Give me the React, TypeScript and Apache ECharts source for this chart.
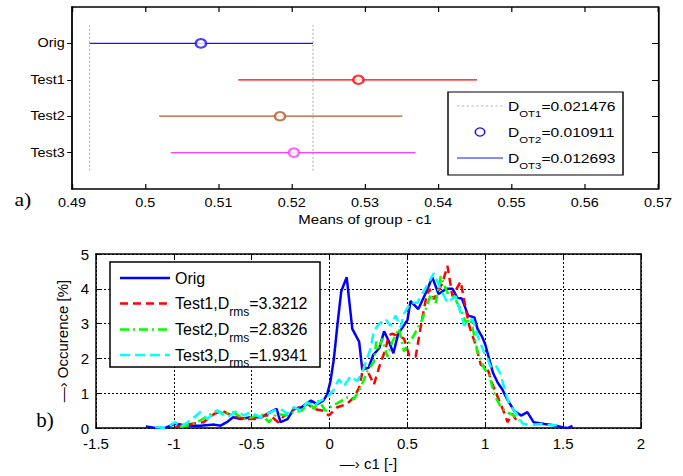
import React, { useEffect, useRef } from "react";
import * as echarts from "echarts";

// ---------- panel a) : multiple comparison of group means ----------
const groupNames = ["Orig", "Test1", "Test2", "Test3"];
const groupPos = [4, 3, 2, 1];
const groupMeans = [0.5076, 0.5291, 0.5184, 0.5203];
const groupLow = [0.4924, 0.5127, 0.5019, 0.5035];
const groupHigh = [0.5229, 0.5453, 0.5351, 0.5369];
const refLineSpan = [0.5, 4.5];
const dotLegend = ["D_OT1=0.021476", "D_OT2=0.010911", "D_OT3=0.012693"];
const topXRange = [0.49, 0.57];
const topXStep = 0.01;

// ---------- panel b) : distributions ----------
const origData = [
  [-1.18, 0.05], [-1.12, 0], [-1.06, 0], [-0.99, 0.13], [-0.95, 0.1], [-0.89, 0.07], [-0.83, 0.07],
  [-0.74, 0.1], [-0.7, 0.07], [-0.66, 0.17], [-0.62, 0.31], [-0.57, 0.26], [-0.51, 0.31], [-0.44, 0.31],
  [-0.38, 0.46], [-0.34, 0.55], [-0.315, 0.17], [-0.27, 0.26], [-0.23, 0.55], [-0.18, 0.6], [-0.12, 0.79],
  [-0.08, 0.69], [-0.04, 0.79], [-0.015, 0.97], [0.006, 1.35], [0.028, 2.0], [0.05, 2.95], [0.075, 3.93],
  [0.11, 4.33], [0.146, 2.85], [0.19, 2.48], [0.21, 1.68], [0.25, 1.73], [0.28, 2.1], [0.32, 2.3],
  [0.35, 2.78], [0.38, 2.5], [0.41, 2.15], [0.44, 2.7], [0.47, 2.9], [0.5, 3.1], [0.52, 3.65],
  [0.57, 3.42], [0.62, 3.9], [0.66, 4.33], [0.7, 3.85], [0.75, 4.0], [0.79, 4.0], [0.82, 3.74],
  [0.85, 3.72], [0.89, 3.23], [0.93, 3.18], [0.95, 2.85], [0.98, 2.62], [1.0, 2.4], [1.03, 1.9],
  [1.05, 1.58], [1.08, 1.3], [1.11, 1.11], [1.14, 0.83], [1.185, 0.5], [1.23, 0.36], [1.27, 0.46],
  [1.31, 0.17], [1.38, 0.12], [1.44, 0.08], [1.5, 0.02], [1.53, 0], [1.56, 0.06],
];
const test1Data = [
  [-0.99, 0.03], [-0.96, 0.07], [-0.89, 0.12], [-0.81, 0.17], [-0.74, 0.41], [-0.69, 0.5], [-0.65, 0.41],
  [-0.59, 0.31], [-0.53, 0.26], [-0.48, 0.26], [-0.42, 0.36], [-0.38, 0.36], [-0.33, 0.17], [-0.29, 0.36],
  [-0.25, 0.5], [-0.19, 0.6], [-0.14, 0.69], [-0.1, 0.55], [-0.04, 0.5], [-0.005, 0.36], [0.05, 0.6],
  [0.11, 0.69], [0.156, 0.88], [0.19, 1.16], [0.22, 1.82], [0.25, 1.58], [0.285, 1.25], [0.317, 1.73],
  [0.36, 2.28], [0.38, 2.66], [0.4, 2.71], [0.435, 2.66], [0.478, 2.57], [0.51, 2.1], [0.553, 2.05],
  [0.585, 2.9], [0.617, 3.67], [0.64, 4.0], [0.67, 3.7], [0.725, 4.17], [0.757, 4.66], [0.789, 3.79],
  [0.842, 4.21], [0.875, 3.42], [0.896, 2.95], [0.939, 2.38], [0.971, 1.82], [1.014, 1.72], [1.046, 1.26],
  [1.089, 0.79], [1.121, 0.45], [1.143, 0.17], [1.175, 0.41], [1.207, 0.17],
];
const test2Data = [
  [-0.96, 0.03], [-0.89, 0.1], [-0.83, 0.22], [-0.78, 0.36], [-0.72, 0.5], [-0.68, 0.41], [-0.62, 0.46],
  [-0.55, 0.26], [-0.5, 0.31], [-0.44, 0.41], [-0.39, 0.17], [-0.34, 0.41], [-0.28, 0.36], [-0.23, 0.46],
  [-0.18, 0.5], [-0.13, 0.74], [-0.1, 0.55], [-0.07, 0.79], [-0.026, 0.5], [0.017, 0.64], [0.06, 0.74],
  [0.11, 0.88], [0.156, 0.83], [0.2, 1.16], [0.242, 1.63], [0.285, 1.91], [0.3, 2.48], [0.317, 2.28],
  [0.339, 2.57], [0.371, 2.05], [0.403, 2.48], [0.446, 2.86], [0.478, 2.2], [0.51, 2.45], [0.542, 2.67],
  [0.596, 3.13], [0.65, 3.84], [0.682, 3.6], [0.714, 4.36], [0.757, 3.89], [0.8, 3.75], [0.842, 3.42],
  [0.875, 3.04], [0.907, 3.13], [0.95, 2.2], [0.99, 1.73], [1.025, 1.54], [1.057, 0.97], [1.1, 0.6],
  [1.143, 0.45], [1.185, 0.36], [1.217, 0.22],
];
const test3Data = [
  [-1.12, 0.03], [-1.055, 0], [-0.99, 0.17], [-0.958, 0.03], [-0.894, 0.22], [-0.83, 0.46], [-0.786, 0.26],
  [-0.722, 0.5], [-0.658, 0.31], [-0.594, 0.5], [-0.551, 0.36], [-0.508, 0.46], [-0.444, 0.31], [-0.401, 0.41],
  [-0.358, 0.5], [-0.315, 0.55], [-0.272, 0.41], [-0.23, 0.6], [-0.186, 0.5], [-0.143, 0.74], [-0.101, 0.64],
  [-0.058, 0.79], [-0.015, 0.88], [0.028, 1.11], [0.06, 1.4], [0.092, 1.2], [0.135, 1.49], [0.178, 1.35],
  [0.22, 1.72], [0.264, 2.3], [0.285, 2.8], [0.317, 2.99], [0.36, 3.13], [0.392, 2.94], [0.424, 3.23],
  [0.457, 2.9], [0.48, 3.3], [0.52, 3.6], [0.564, 3.6], [0.607, 3.95], [0.67, 4.45], [0.714, 3.98],
  [0.757, 3.6], [0.81, 3.79], [0.864, 2.95], [0.918, 3.13], [0.95, 2.66], [0.99, 2.2], [1.014, 2.0],
  [1.035, 1.75], [1.068, 1.8], [1.1, 1.54], [1.121, 1.16], [1.153, 0.69], [1.196, 0.45], [1.239, 0.13],
  [1.29, 0.08], [1.357, 0.12], [1.42, 0.08], [1.46, 0.08],
];
const distNames = ["Orig", "Test1,D_rms=3.3212", "Test2,D_rms=2.8326", "Test3,D_rms=1.9341"];
const botXRange = [-1.5, 2];
const botXStep = 0.5;
const botYRange = [0, 5];

// ---------- helpers ----------
const S = 1.2; // horizontal stretch of panel a)
const FONT = "'Liberation Sans', Arial, Helvetica, sans-serif";
const SERIF = "'Liberation Serif', 'Times New Roman', serif";

function richName(name: string) {
  const m = name.match(/^(.*)_([A-Za-z0-9]+)(=.*)$/);
  if (!m) return `{m|${name}}`;
  return `{m|${m[1]}}{s|${m[2]}}{m|${m[3]}}`;
}

const axisLineStyle = { show: true, onZero: false, lineStyle: { color: "#000", width: 1.5 } };

function legendText(name: string, x: number, y: number, main: number, sub: number, lh: number, pad: number) {
  return {
    type: "text",
    x,
    y,
    z: 101,
    style: {
      text: richName(name),
      fill: "#000",
      font: `${main}px ${FONT}`,
      align: "left",
      verticalAlign: "middle",
      textAlign: "left",
      textVerticalAlign: "middle",
      rich: {
        m: { fontSize: main, fontFamily: FONT, lineHeight: lh, fill: "#000" },
        s: { fontSize: sub, fontFamily: FONT, lineHeight: 10, padding: [pad, 0, 0, 0], fill: "#000" },
      },
    },
  };
}

function topOption() {
  const colors = ["#1414ff", "#ff0000", "#b55a2c", "#ff3cff"];
  const refColor = "#b8b8b8";
  const series: any[] = [];
  [groupLow[0], groupHigh[0]].forEach((x) => {
    series.push({
      type: "line",
      name: dotLegend[0],
      data: [[x, refLineSpan[0]], [x, refLineSpan[1]]],
      symbol: "none",
      lineStyle: { color: refColor, width: 1, type: [2, 2] },
      itemStyle: { color: refColor },
      z: 1,
      silent: true,
    });
  });
  groupNames.forEach((g, i) => {
    series.push({
      type: "line",
      name: i === 0 ? dotLegend[2] : g + " interval",
      data: [[groupLow[i], groupPos[i]], [groupHigh[i], groupPos[i]]],
      symbol: "none",
      lineStyle: { color: colors[i], width: 1.2 },
      itemStyle: { color: colors[i] },
      z: 2,
    });
    series.push({
      type: "scatter",
      name: i === 0 ? dotLegend[1] : g + " mean",
      data: [[groupMeans[i], groupPos[i]]],
      symbol: "emptyCircle",
      symbolSize: 8.5,
      itemStyle: { color: colors[i], borderColor: colors[i], borderWidth: 1.3 },
      z: 3,
    });
  });
  const xBase = {
    type: "value",
    min: topXRange[0],
    max: topXRange[1],
    interval: topXStep,
    axisLine: axisLineStyle,
    axisTick: { show: true, inside: true, length: 5, lineStyle: { color: "#000", width: 1 } },
    splitLine: { show: false },
  };
  const yBase = {
    type: "value",
    min: 0,
    max: 5,
    interval: 1,
    axisLine: axisLineStyle,
    splitLine: { show: false },
  };

  // legend box (drawn with graphic elements)
  const lx = 448 / S, ly = 92, lw = 175 / S, lh = 83;
  const rowY = [106, 132, 158];
  const sx1 = 457 / S, sx2 = 503 / S, tx = 508 / S;
  const legendEls: any[] = [
    { type: "rect", shape: { x: lx, y: ly, width: lw, height: lh }, style: { fill: "#fff", stroke: "#000", lineWidth: 1.2 }, z: 100 },
    { type: "line", shape: { x1: sx1, y1: rowY[0], x2: sx2, y2: rowY[0] }, style: { stroke: refColor, lineWidth: 1, lineDash: [2, 2] }, z: 101 },
    { type: "circle", shape: { cx: (sx1 + sx2) / 2, cy: rowY[1], r: 4 }, style: { fill: "#fff", stroke: colors[0], lineWidth: 1.3 }, z: 101 },
    { type: "line", shape: { x1: sx1, y1: rowY[2], x2: sx2, y2: rowY[2] }, style: { stroke: colors[0], lineWidth: 1.2 }, z: 101 },
    ...dotLegend.map((n, i) => legendText(n, tx, rowY[i], 13, 9.5, 26, 16)),
  ];

  return {
    animation: false,
    textStyle: { fontFamily: FONT },
    grid: { left: 72 / S, top: 7, width: 586 / S, height: 182 },
    xAxis: [
      {
        ...xBase,
        position: "bottom",
        axisLabel: { color: "#000", fontSize: 12, margin: 8, fontFamily: FONT },
        name: "Means of group - c1",
        nameLocation: "middle",
        nameGap: 24,
        nameTextStyle: { color: "#000", fontSize: 12.5, fontFamily: FONT },
      },
      { ...xBase, position: "top", axisLabel: { show: false } },
    ],
    yAxis: [
      {
        ...yBase,
        position: "left",
        axisTick: { show: true, inside: false, length: 4, customValues: groupPos, lineStyle: { color: "#000" } },
        axisLabel: {
          customValues: groupPos,
          color: "#000",
          fontSize: 12,
          margin: 6,
          fontFamily: FONT,
          formatter: (v: number) => groupNames[groupPos.indexOf(Math.round(v))] ?? "",
        },
      },
      {
        ...yBase,
        position: "right",
        axisTick: { show: true, inside: true, length: 5, customValues: groupPos, lineStyle: { color: "#000" } },
        axisLabel: { show: false },
      },
    ],
    series,
    graphic: [
      {
        type: "text",
        x: 19,
        y: 200,
        style: {
          text: "a)",
          font: `18px ${SERIF}`,
          fill: "#000",
          align: "center",
          verticalAlign: "middle",
          textAlign: "center",
          textVerticalAlign: "middle",
        },
      },
      ...legendEls,
    ],
  };
}

function botOption() {
  const datasets = [origData, test1Data, test2Data, test3Data];
  const colors = ["#0000ff", "#ff0000", "#00ff00", "#00ffff"];
  const dashes: any[] = ["solid", [8, 5], [9, 4, 2, 4], [10, 5]];
  const series = datasets.map((d, i) => ({
    type: "line",
    name: distNames[i],
    data: d,
    symbol: "none",
    lineStyle: { color: colors[i], width: 2.5, type: dashes[i] },
    itemStyle: { color: colors[i] },
    z: 2 + i,
  }));
  const grid = { show: true, lineStyle: { color: "#000", width: 1, type: [2, 2] } };
  const xBase = {
    type: "value",
    min: botXRange[0],
    max: botXRange[1],
    interval: botXStep,
    axisLine: axisLineStyle,
    axisTick: { show: true, inside: true, length: 5, lineStyle: { color: "#000" } },
  };
  const yBase = {
    type: "value",
    min: botYRange[0],
    max: botYRange[1],
    interval: 1,
    axisLine: axisLineStyle,
    axisTick: { show: true, inside: true, length: 5, lineStyle: { color: "#000" } },
  };

  // legend box (drawn with graphic elements); y in this chart = page y - 236
  const lx = 110, ly = 262 - 236, lw = 210, lh = 105;
  const rowY = [278, 303.5, 329.5, 355].map((v) => v - 236);
  const legendEls: any[] = [
    { type: "rect", shape: { x: lx, y: ly, width: lw, height: lh }, style: { fill: "#fff", stroke: "#000", lineWidth: 1.5 }, z: 100 },
    ...distNames.map((n, i) => ({
      type: "line",
      shape: { x1: 120, y1: rowY[i], x2: 170, y2: rowY[i] },
      style: { stroke: colors[i], lineWidth: 2.5, lineDash: i === 0 ? null : dashes[i] },
      z: 101,
    })),
    ...distNames.map((n, i) => legendText(n, 175, rowY[i], 16, 12, 26, 16)),
  ];

  return {
    animation: false,
    textStyle: { fontFamily: FONT },
    grid: { left: 96, top: 18, width: 545, height: 177.4 },
    xAxis: [
      {
        ...xBase,
        position: "bottom",
        splitLine: grid,
        axisLabel: { color: "#000", fontSize: 15, margin: 8, fontFamily: FONT },
        name: "—› c1 [-]",
        nameLocation: "middle",
        nameGap: 26,
        nameTextStyle: { color: "#000", fontSize: 15, fontFamily: FONT },
      },
      { ...xBase, position: "top", splitLine: { show: false }, axisLabel: { show: false } },
    ],
    yAxis: [
      {
        ...yBase,
        position: "left",
        splitLine: grid,
        axisLabel: { color: "#000", fontSize: 15, margin: 7, fontFamily: FONT },
        name: "—› Occurence [%]",
        nameLocation: "middle",
        nameGap: 17,
        nameTextStyle: { color: "#000", fontSize: 15, fontFamily: FONT },
      },
      { ...yBase, position: "right", splitLine: { show: false }, axisLabel: { show: false } },
    ],
    series,
    graphic: [
      {
        type: "text",
        x: 45,
        y: 184,
        style: {
          text: "b)",
          font: `21px ${SERIF}`,
          fill: "#000",
          align: "center",
          verticalAlign: "middle",
          textAlign: "center",
          textVerticalAlign: "middle",
        },
      },
      ...legendEls,
    ],
  };
}

export default function App() {
  const topRef = useRef<HTMLDivElement>(null);
  const botRef = useRef<HTMLDivElement>(null);
  useEffect(() => {
    document.body.style.margin = "0";
    const top = echarts.init(topRef.current!, null, { renderer: "svg" });
    const bot = echarts.init(botRef.current!, null, { renderer: "svg" });
    top.setOption(topOption() as any);
    bot.setOption(botOption() as any);
    return () => {
      top.dispose();
      bot.dispose();
    };
  }, []);
  return (
    <div style={{ position: "relative", width: 683, height: 476, overflow: "hidden", background: "#fff" }}>
      <div
        ref={topRef}
        style={{
          position: "absolute",
          left: 0,
          top: 0,
          width: 683 / S,
          height: 236,
          transform: `scaleX(${S})`,
          transformOrigin: "0 0",
        }}
      />
      <div ref={botRef} style={{ position: "absolute", left: 0, top: 236, width: 683, height: 240 }} />
    </div>
  );
}
